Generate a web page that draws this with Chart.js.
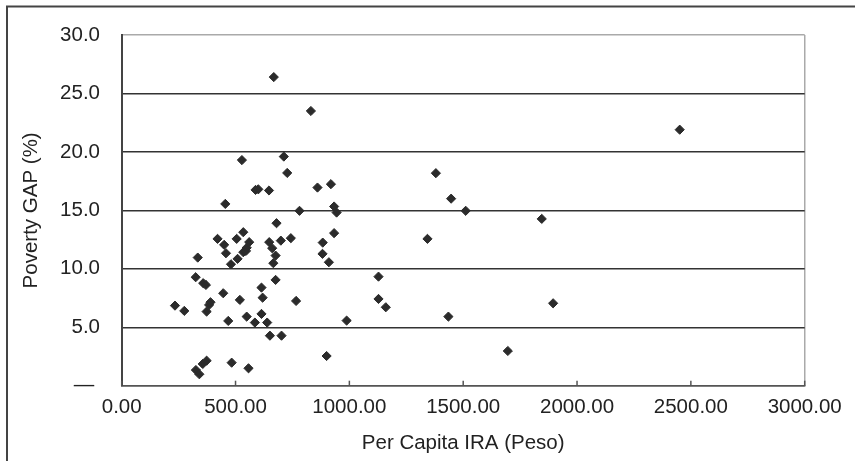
<!DOCTYPE html>
<html>
<head>
<meta charset="utf-8">
<script src="https://cdn.jsdelivr.net/npm/chart.js@4/dist/chart.umd.min.js"></script>
<style>
  html, body { margin: 0; padding: 0; background: #fff; }
  #wrap { position: relative; width: 855px; height: 461px; overflow: hidden; }
  canvas { position: absolute; left: 0; top: 0; }
</style>
</head>
<body>
<div id="wrap"><canvas id="c" width="855" height="461"></canvas></div>
<script>
// Per Capita IRA (Peso)
const xValues = [
  234, 275, 325, 334, 326, 341, 356, 373, 358, 370,
  373, 384, 390, 421, 446, 450, 455, 458, 468, 480,
  483, 505, 509, 519, 528, 534, 534, 546, 549, 560,
  549, 557, 585, 588, 600, 614, 614, 619, 639, 647,
  648, 651, 661, 666, 668, 676, 676, 680, 699, 702,
  712, 727, 743, 766, 781, 831, 860, 883, 882, 900,
  910, 919, 933, 933, 944, 988, 1128, 1128, 1160, 1343,
  1380, 1435, 1447, 1511, 1696, 1845, 1895, 2451
];
// Poverty GAP (%)
const yValues = [
  6.85, 6.4, 9.28, 10.96, 1.34, 0.98, 1.86, 2.14, 8.77, 8.62,
  6.34, 6.91, 7.14, 12.56, 7.91, 12.05, 15.55, 11.33, 5.54, 10.39,
  1.97, 12.56, 10.85, 7.34, 19.3, 13.13, 11.42, 11.53, 11.8, 12.28,
  5.91, 1.49, 5.4, 16.75, 16.8, 8.39, 6.14, 7.53, 5.4, 16.7,
  12.28, 4.28, 11.76, 10.48, 26.4, 11.13, 9.05, 13.9, 12.41, 4.28,
  19.6, 18.2, 12.62, 7.25, 14.96, 23.5, 16.95, 12.24, 11.28, 2.54,
  10.56, 17.24, 15.33, 13.05, 14.81, 5.57, 9.33, 7.42, 6.71, 12.56,
  18.18, 5.91, 16.0, 14.96, 2.97, 14.27, 7.05, 21.9
];
const xTickValues = [0, 500, 1000, 1500, 2000, 2500, 3000];
const yTickValues = [0, 5, 10, 15, 20, 25, 30];
const xTitle = 'Per Capita IRA (Peso)';
const yTitle = 'Poverty GAP (%)';

const points = xValues.map((x, i) => ({ x: x, y: yValues[i] }));
const FONT = { family: "'Liberation Sans', Arial, sans-serif", size: 20.5 };

const framePlugin = {
  id: 'frame',
  beforeDraw(chart) {
    const ctx = chart.ctx;
    ctx.save();
    ctx.strokeStyle = '#444';
    ctx.lineWidth = 2;
    ctx.beginPath();
    ctx.moveTo(7, 461);
    ctx.lineTo(7, 6.5);
    ctx.lineTo(855, 6.5);
    ctx.stroke();
    ctx.restore();
  }
};

const innerTicksPlugin = {
  id: 'innerTicks',
  afterDatasetsDraw(chart) {
    const xs = chart.scales.x;
    const ctx = chart.ctx;
    const bottom = chart.chartArea.bottom;
    ctx.save();
    ctx.strokeStyle = '#555';
    ctx.lineWidth = 1.5;
    xs.ticks.forEach(t => {
      const px = xs.getPixelForValue(t.value);
      ctx.beginPath();
      ctx.moveTo(px, bottom);
      ctx.lineTo(px, bottom - 5);
      ctx.stroke();
    });
    ctx.restore();
  }
};

new Chart(document.getElementById('c'), {
  type: 'scatter',
  data: {
    datasets: [{
      data: points,
      pointStyle: 'rectRot',
      pointRadius: 4.6,
      pointBackgroundColor: '#2b2b2b',
      pointBorderColor: '#2b2b2b',
      pointBorderWidth: 1,
      showLine: false
    }]
  },
  options: {
    responsive: false,
    animation: false,
    layout: { padding: { top: 35, right: 50.3, bottom: 0, left: 0 } },
    plugins: {
      legend: { display: false },
      tooltip: { enabled: false }
    },
    scales: {
      x: {
        type: 'linear',
        min: 0,
        max: 3000,
        afterBuildTicks(scale) { scale.ticks = xTickValues.map(v => ({ value: v })); },
        afterFit(scale) { scale.height = 75.3; },
        ticks: {
          font: FONT,
          color: '#222',
          padding: 9,
          maxRotation: 0,
          autoSkip: false,
          callback: v => Number(v).toFixed(2)
        },
        grid: {
          drawTicks: false,
          lineWidth: 1.5,
          color: c => (c.tick && c.tick.value === 3000) ? '#aaa' : 'rgba(0,0,0,0)'
        },
        border: { display: true, color: '#555', width: 1.5 },
        title: {
          display: true,
          text: xTitle,
          font: FONT,
          color: '#222',
          padding: { top: 0, bottom: 5.7 }
        }
      },
      y: {
        type: 'linear',
        min: 0,
        max: 30,
        afterBuildTicks(scale) { scale.ticks = yTickValues.map(v => ({ value: v })); },
        afterFit(scale) { scale.width = 121.7; },
        ticks: {
          font: FONT,
          color: '#222',
          padding: 21.7,
          autoSkip: false,
          callback: v => (v === 0 ? '\u2014 ' : Number(v).toFixed(1))
        },
        grid: {
          drawTicks: false,
          lineWidth: 1.5,
          color: c => {
            if (!c.tick) return '#333';
            if (c.tick.value === 30) return '#aaa';
            if (c.tick.value === 0) return '#555';
            return '#333';
          }
        },
        border: { display: true, color: '#444', width: 2 },
        title: {
          display: true,
          text: yTitle,
          font: FONT,
          color: '#222',
          padding: { top: 19.4, bottom: 0 }
        }
      }
    }
  },
  plugins: [framePlugin, innerTicksPlugin]
});
</script>
</body>
</html>
